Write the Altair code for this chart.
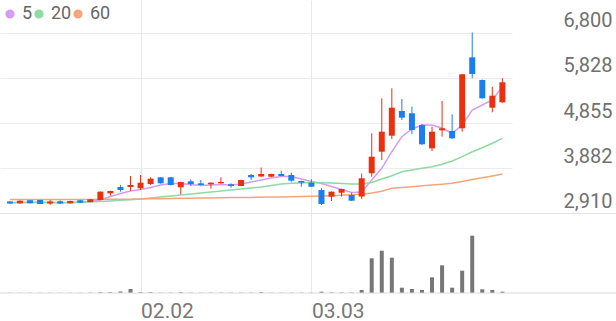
import altair as alt
import pandas as pd

# ---- data ----
opens  = [3168, 3129, 3194, 3200, 3125, 3172, 3129, 3194, 3157, 3200,
          3344, 3480, 3480, 3452, 3544, 3688, 3688, 3473, 3602, 3559,
          3538, 3559, 3538, 3501, 3737, 3705, 3701, 3759, 3737, 3608,
          3572, 3415, 3271, 3357, 3308, 3275, 3774, 4238, 4582, 5113,
          5064, 4812, 4311, 4698, 4683, 4741, 6267, 5779, 5184, 5300]
highs  = [3179, 3190, 3200, 3205, 3200, 3194, 3185, 3200, 3222, 3385,
          3400, 3523, 3716, 3737, 3688, 3694, 3694, 3595, 3645, 3630,
          3580, 3688, 3559, 3637, 3759, 3899, 3766, 3830, 3787, 3615,
          3645, 3452, 3385, 3443, 3357, 3770, 4634, 5386, 5601, 5371,
          5205, 4834, 4776, 5328, 5042, 5908, 6800, 5790, 5635, 5816]
lows   = [3114, 3125, 3125, 3110, 3093, 3114, 3125, 3136, 3150, 3194,
          3293, 3379, 3400, 3415, 3523, 3552, 3515, 3323, 3501, 3515,
          3443, 3552, 3465, 3494, 3630, 3700, 3694, 3710, 3593, 3486,
          3480, 3093, 3179, 3271, 3179, 3222, 3701, 4060, 4511, 4920,
          4612, 4382, 4253, 4561, 4511, 4668, 5816, 5380, 5085, 5290]
closes = [3125, 3185, 3129, 3114, 3168, 3125, 3179, 3142, 3215, 3379,
          3394, 3415, 3523, 3572, 3658, 3559, 3523, 3587, 3544, 3523,
          3572, 3587, 3501, 3630, 3688, 3759, 3759, 3716, 3615, 3572,
          3486, 3114, 3379, 3437, 3185, 3667, 4131, 4668, 5184, 4969,
          4705, 4397, 4668, 4741, 4526, 5902, 5908, 5386, 5442, 5730]
volumes = [2, 2, 2, 2, 2, 2, 2, 2, 3, 8,
           8, 15, 40, 8, 8, 3, 3, 8, 3, 3,
           3, 3, 3, 3, 3, 8, 3, 3, 3, 3,
           3, 13, 5, 5, 5, 30, 347, 423, 353, 53,
           40, 30, 157, 277, 53, 223, 573, 37, 30, 13]
ma5  = [3142, 3146, 3151, 3151, 3146, 3142, 3146, 3157, 3168, 3200,
        3275, 3340, 3394, 3426, 3469, 3523, 3555, 3555, 3533, 3512,
        3523, 3533, 3523, 3544, 3587, 3630, 3673, 3705, 3705, 3651,
        3598, 3555, 3490, 3426, 3361, 3372, 3630, 3881, 4238, 4561,
        4726, 4812, 4812, 4741, 4634, 4812, 5134, 5242, 5349, 5635]
ma20 = [3146, 3146, 3146, 3146, 3146, 3146, 3146, 3146, 3157, 3168,
        3179, 3194, 3207, 3222, 3243, 3265, 3286, 3308, 3329, 3351,
        3372, 3394, 3415, 3437, 3458, 3480, 3512, 3544, 3559, 3566,
        3576, 3572, 3566, 3555, 3544, 3544, 3576, 3651, 3722, 3808,
        3845, 3881, 3916, 3967, 4038, 4131, 4238, 4324, 4419, 4526]
ma60 = [3211, 3211, 3211, 3211, 3211, 3211, 3211, 3211, 3211, 3217,
        3217, 3217, 3217, 3222, 3226, 3228, 3232, 3237, 3239, 3243,
        3245, 3247, 3252, 3254, 3256, 3258, 3262, 3267, 3271, 3275,
        3280, 3286, 3293, 3301, 3312, 3323, 3351, 3387, 3452, 3469,
        3486, 3505, 3523, 3540, 3559, 3598, 3639, 3677, 3718, 3759]
ma_names = ["5", "20", "60"]
ma_colors = ["#d69cf0", "#8fd9a2", "#f7a47c"]
tick_idx = [13, 30]
tick_text = ["02.02", "03.03"]
price_ticks = [2910, 3882, 4855, 5828, 6800]

RED = "#e9300f"
BLUE = "#1b7ef0"

n = len(opens)
df = pd.DataFrame({
    "i": list(range(n)), "o": opens, "h": highs, "l": lows, "c": closes,
    "v": volumes,
    "d": ["up" if c >= o else "down" for o, c in zip(opens, closes)],
})
ma_df = pd.DataFrame({
    "i": list(range(n)) * 3,
    "ma": [m for m in ma_names for _ in range(n)],
    "val": ma5 + ma20 + ma60,
})

X_DOM = [-0.488, 49.46]
Y_DOM = [1201.4, 7498.5]
V_DOM = [0, 2930]


def xs():
    return alt.Scale(domain=X_DOM, nice=False, zero=False)


def ys():
    return alt.Scale(domain=Y_DOM, nice=False, zero=False)


def vs():
    return alt.Scale(domain=V_DOM, nice=False, zero=True)


label_expr = " : ".join(
    f"datum.value == {k} ? '{t}'" for k, t in zip(tick_idx, tick_text)) + " : ''"

xaxis = alt.Axis(values=tick_idx, labelExpr=label_expr, title=None, grid=True,
                 gridColor="#e8e8e8", ticks=False, domain=False,
                 labelAlign="left", labelPadding=7, labelFontSize=21,
                 labelColor="#777777", labelFont="Roboto")
yaxis = alt.Axis(orient="right", values=price_ticks, format=",d", title=None,
                 grid=True, gridColor="#ececec", ticks=False, tickSize=0,
                 domain=False, labelAlign="right", labelPadding=100,
                 labelBaseline="alphabetic", labelOffset=-6,
                 labelFontSize=20, labelColor="#707070", labelFont="Roboto")

candle_color = alt.Color("d:N", scale=alt.Scale(domain=["up", "down"],
                                                  range=[RED, BLUE]), legend=None)

lines = alt.Chart(ma_df).mark_line(strokeWidth=1.5).encode(
    x=alt.X("i:Q", scale=xs(), axis=xaxis),
    y=alt.Y("val:Q", scale=ys(), axis=yaxis),
    stroke=alt.Stroke("ma:N", scale=alt.Scale(domain=ma_names, range=ma_colors),
                      legend=alt.Legend(title=None, orient="none", legendX=1,
                                        legendY=5, direction="horizontal",
                                        gridAlign="none",
                                        symbolType="circle", symbolSize=18,
                                        symbolStrokeWidth=5, labelFontSize=18,
                                        labelColor="#666666", labelFont="Roboto",
                                        labelOffset=3, columnPadding=-7,
                                        padding=0)),
)

wicks = alt.Chart(df).mark_rule(strokeWidth=1).encode(
    x=alt.X("i:Q", scale=xs()),
    y=alt.Y("l:Q", scale=ys(), axis=None),
    y2="h:Q",
    color=candle_color,
)
bodies = alt.Chart(df).mark_bar(size=6).encode(
    x=alt.X("i:Q", scale=xs()),
    y=alt.Y("o:Q", scale=ys(), axis=None),
    y2="c:Q",
    color=candle_color,
)
floor_rule = alt.Chart(pd.DataFrame({"p": [price_ticks[0]]})).mark_rule(
    color="#e4e4e4", strokeWidth=1).encode(
    y=alt.Y("p:Q", scale=ys(), axis=None),
    x=alt.value(0), x2=alt.value(616),
)
vol_bars = alt.Chart(df).mark_bar(size=4, color="#777777").encode(
    x=alt.X("i:Q", scale=xs()),
    y=alt.Y("v:Q", scale=vs(), axis=None),
)
vol_base = alt.Chart(pd.DataFrame({"z": [0]})).mark_rule(
    color="#dcdcdc", strokeWidth=1).encode(
    y=alt.Y("z:Q", scale=vs(), axis=None),
    x=alt.value(0), x2=alt.value(616),
)

chart = alt.layer(lines, wicks, bodies, floor_rule, vol_bars, vol_base
                  ).resolve_scale(y="independent").properties(
    width=512, height=293,
    padding={"left": 0, "top": 0, "right": 104, "bottom": 28},
    autosize=alt.AutoSizeParams(type="none"),
).configure(font="Roboto", background="white").configure_view(stroke=None)

chart.save("out.html", embed_options={"renderer": "svg", "actions": False})
